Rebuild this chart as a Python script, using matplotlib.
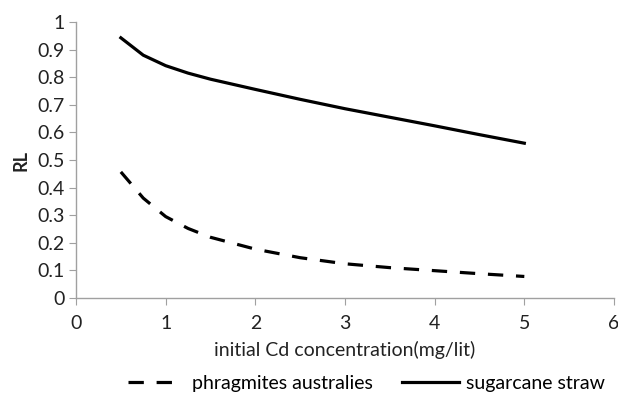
import numpy as np
import matplotlib.pyplot as plt

plt.rcParams['font.family'] = ['Lato', 'DejaVu Sans']

# Data
conc = [0.5, 0.75, 1.0, 1.25, 1.5, 2.0, 2.5, 3.0, 3.5, 4.0, 4.5, 5.0]
phragmites = [0.457, 0.362, 0.295, 0.252, 0.220, 0.177, 0.146, 0.124, 0.110, 0.099, 0.088, 0.078]
sugarcane = [0.943, 0.880, 0.842, 0.815, 0.793, 0.756, 0.720, 0.686, 0.655, 0.624, 0.592, 0.561]
xticks = [0, 1, 2, 3, 4, 5, 6]
yticks = [0, 0.1, 0.2, 0.3, 0.4, 0.5, 0.6, 0.7, 0.8, 0.9, 1]

fig = plt.figure(figsize=(6.18, 3.95), dpi=100)
ax = fig.add_axes([0.123, 0.2456, 0.8705, 0.6985])

ax.plot(conc, phragmites, color='black', lw=2.3, dashes=(4.8, 4.0),
        label='phragmites australies')
ax.plot(conc, sugarcane, color='black', lw=2.3, label='sugarcane straw')

ax.set_xlim(0, 6)
ax.set_ylim(0, 1)
ax.set_xticks(xticks)
ax.set_yticks(yticks)
ax.set_yticklabels([f'{v:g}' for v in yticks])
for s in ['top', 'right']:
    ax.spines[s].set_visible(False)
for s in ['left', 'bottom']:
    ax.spines[s].set_color('#a0a0a0')
    ax.spines[s].set_linewidth(1.0)
ax.tick_params(direction='out', length=5, color='#a0a0a0', labelsize=14,
               labelcolor='#222222', pad=3)
ax.tick_params(axis='x', pad=7)

ax.set_xlabel('initial Cd concentration(mg/lit)', fontsize=14, color='#222222', labelpad=7)
ax.set_ylabel('RL', fontsize=13, fontweight='bold', color='#222222', labelpad=6)

fig.legend(loc='lower left', bbox_to_anchor=(0.207, 0.008), ncol=2, frameon=False,
           fontsize=14, handlelength=2.9, columnspacing=1.5, handletextpad=0.4,
           borderpad=0, borderaxespad=0)

fig.savefig('out.png', dpi=100)
